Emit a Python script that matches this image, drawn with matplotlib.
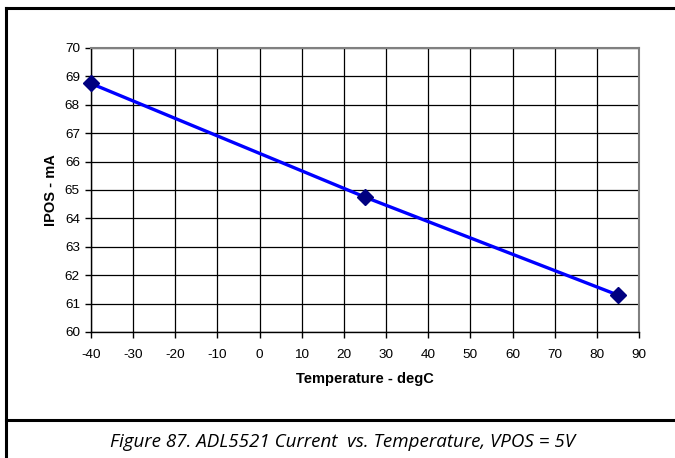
import matplotlib.pyplot as plt
from matplotlib.lines import Line2D

plt.rcParams['axes.unicode_minus'] = False

temperature = [-40, 25, 85]
ipos_ma = [68.75, 64.75, 61.3]
x_ticks = list(range(-40, 91, 10))
y_ticks = list(range(60, 71, 1))

W, H = 675, 458
fig = plt.figure(figsize=(W / 100, H / 100), dpi=100)
fig.patch.set_facecolor('white')

ax = fig.add_axes([91 / W, (H - 332) / H, (639 - 91) / W, (332 - 48) / H])
ax.plot(temperature, ipos_ma, color='#0000FF', linewidth=2.4, zorder=3)
ax.plot(temperature, ipos_ma, linestyle='none', marker='D', markersize=8,
        color='#000080', zorder=4, clip_on=False)

ax.set_xlim(-40, 90)
ax.set_ylim(60, 70)
ax.set_xticks(x_ticks)
ax.set_yticks(y_ticks)
ax.grid(True, color='black', linewidth=0.9)
ax.set_axisbelow(True)

for s in ['top', 'right']:
    ax.spines[s].set_color('#808080')
    ax.spines[s].set_linewidth(1.5)
for s in ['left', 'bottom']:
    ax.spines[s].set_color('black')
    ax.spines[s].set_linewidth(1.0)

ax.tick_params(direction='out', length=4, width=1, pad=4,
               labelsize=9.7, labelfontfamily='Liberation Sans')
ax.tick_params(axis='x', pad=8)
ax.set_xlabel('Temperature - degC', fontsize=10.5, fontweight='bold',
              family='Liberation Sans', labelpad=8)
ax.set_ylabel('IPOS - mA', fontsize=10.5, fontweight='bold',
              family='Liberation Sans', labelpad=5)

# outer frame and caption separator
lw = 2.2
fig.add_artist(Line2D([6 / W, 6 / W], [0, 1 - 8 / H], color='black', linewidth=lw))
fig.add_artist(Line2D([6 / W, 1], [1 - 8 / H, 1 - 8 / H], color='black', linewidth=lw))
fig.add_artist(Line2D([6 / W, 1], [1 - 420 / H, 1 - 420 / H], color='black', linewidth=lw))

fig.text(343 / W, 1 - 442 / H, 'Figure 87. ADL5521 Current  vs. Temperature, VPOS = 5V',
         ha='center', va='center', fontsize=13.5, style='italic',
         family='Open Sans', color='black')

fig.savefig('out.png', dpi=100)
